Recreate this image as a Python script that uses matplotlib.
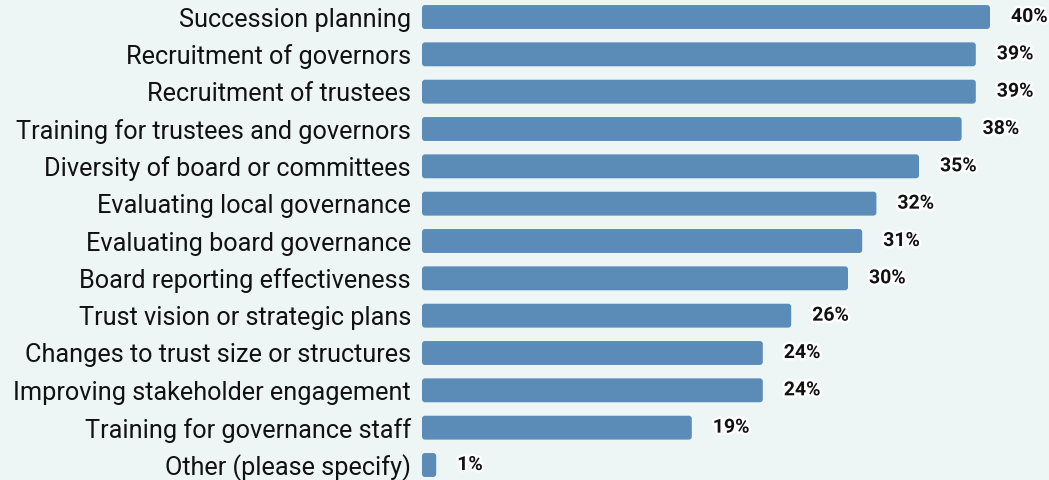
import matplotlib
matplotlib.use("Agg")
import matplotlib.pyplot as plt
from matplotlib.patches import FancyBboxPatch
import matplotlib.patheffects as pe

categories = [
    "Succession planning",
    "Recruitment of governors",
    "Recruitment of trustees",
    "Training for trustees and governors",
    "Diversity of board or committees",
    "Evaluating local governance",
    "Evaluating board governance",
    "Board reporting effectiveness",
    "Trust vision or strategic plans",
    "Changes to trust size or structures",
    "Improving stakeholder engagement",
    "Training for governance staff",
    "Other (please specify)",
]
values = [40, 39, 39, 38, 35, 32, 31, 30, 26, 24, 24, 19, 1]
value_labels = [f"{v}%" for v in values]

BG = "#eef6f5"
BAR = "#5b8cb7"

W, H, DPI = 1049, 480, 100
fig = plt.figure(figsize=(W / DPI, H / DPI), dpi=DPI, facecolor=BG)
ax = fig.add_axes([422 / W, 0, 1 - 422 / W, 1])
ax.set_facecolor(BG)

px_per_unit = 14.2
step = 37.33
ax.set_xlim(0, (W - 422) / px_per_unit)
ax.set_ylim(12 + (H - 465) / step, -17 / step)

n = len(categories)
ypos = list(range(n))
bars = ax.barh(ypos, values, height=0.64, color=BAR)

# swap plain rectangles for rounded ones
xr = 3 / px_per_unit
yr = 3 / step
for b in bars:
    x, y = b.get_x(), b.get_y()
    w, h = b.get_width(), b.get_height()
    b.set_visible(False)
    ax.add_patch(FancyBboxPatch((x, y), w, h,
                                boxstyle=f"round,pad=0,rounding_size={xr}",
                                mutation_aspect=yr / xr,
                                facecolor=BAR, edgecolor="none"))

for y, v, lab in zip(ypos, values, value_labels):
    ax.text(v + 21 / px_per_unit, y, lab, va="center", ha="left",
            fontsize=14, fontweight="bold", family="Roboto", color="#111111",
            path_effects=[pe.withStroke(linewidth=3.5, foreground="white")])

ax.set_yticks(ypos)
ax.set_yticklabels(categories, family="Roboto", fontsize=18.2, color="#111111")
ax.tick_params(axis="y", length=0, pad=8)
ax.set_xticks([])
for s in ax.spines.values():
    s.set_visible(False)

fig.savefig("out.png", dpi=DPI, facecolor=BG)
